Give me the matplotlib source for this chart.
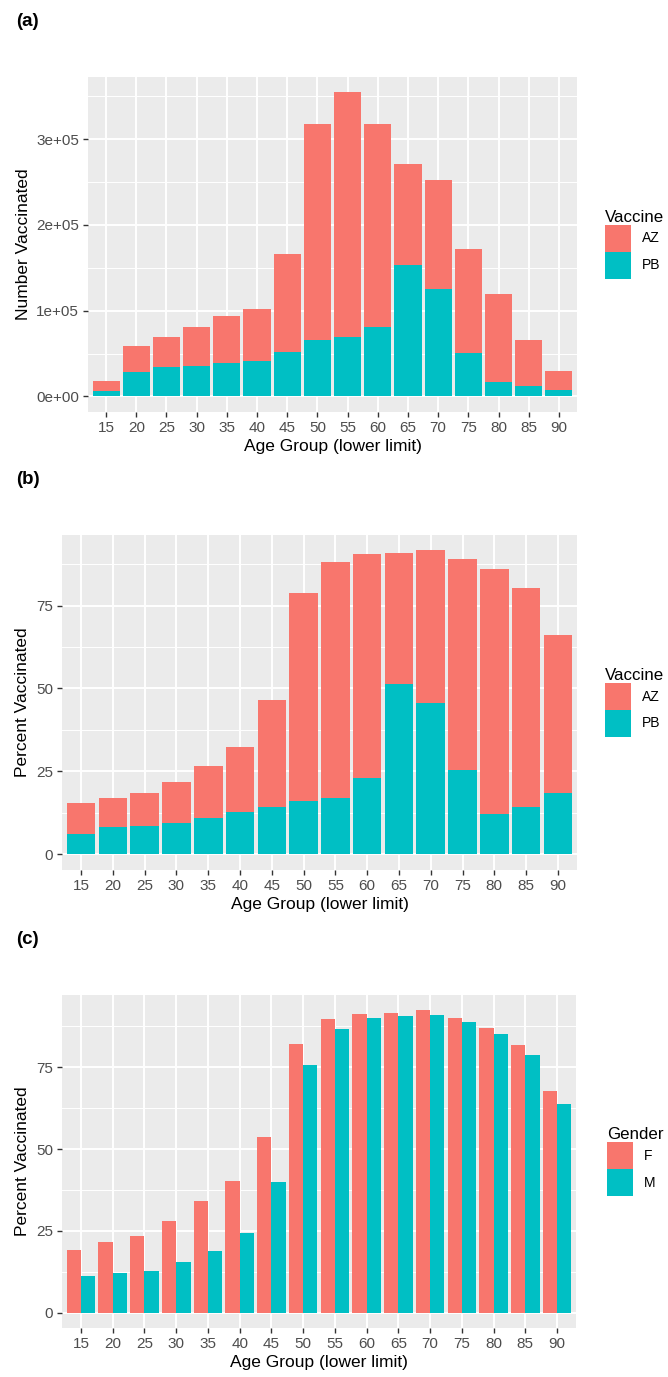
import numpy as np
import matplotlib
matplotlib.use("Agg")
import matplotlib.pyplot as plt
from matplotlib.patches import Patch
from matplotlib.ticker import FixedLocator, FuncFormatter

plt.rcParams['font.family'] = ['Liberation Sans', 'DejaVu Sans']

# data
age_groups = ['15', '20', '25', '30', '35', '40', '45', '50',
              '55', '60', '65', '70', '75', '80', '85', '90']

# (a) number vaccinated by vaccine
num_az = [10900, 30400, 35000, 44700, 54900, 60800, 114600, 252200,
          286100, 237500, 117500, 126500, 121800, 103200, 53700, 22200]
num_pb = [6600, 28000, 33900, 35800, 38500, 41200, 51400, 65800,
          68900, 80500, 153300, 125300, 50200, 16300, 12100, 7400]

# (b) percent vaccinated by vaccine
pct_az = [9.4, 8.7, 9.8, 12.4, 15.7, 19.5, 32.2, 62.8,
          71.0, 67.7, 39.5, 46.2, 63.6, 73.9, 66.1, 47.7]
pct_pb = [6.0, 8.2, 8.6, 9.3, 10.9, 12.8, 14.3, 16.1,
          17.0, 22.9, 51.5, 45.5, 25.5, 12.1, 14.3, 18.4]

# (c) percent vaccinated by gender
pct_f = [19.2, 21.6, 23.5, 28.0, 34.1, 40.2, 53.7, 82.2,
         89.7, 91.3, 91.6, 92.4, 90.1, 87.0, 81.8, 67.7]
pct_m = [11.3, 12.1, 12.9, 15.5, 18.9, 24.3, 39.8, 75.7,
         86.7, 90.1, 90.5, 90.9, 88.7, 85.2, 78.7, 63.7]

RED = '#F8766D'
TEAL = '#00BFC4'
W, H = 668, 1377

fig = plt.figure(figsize=(W / 100, H / 100), dpi=100)


def make_ax(left, right, top, bottom):
    ax = fig.add_axes([left / W, 1 - bottom / H, (right - left) / W, (bottom - top) / H])
    ax.set_facecolor('#EBEBEB')
    for s in ax.spines.values():
        s.set_visible(False)
    ax.set_axisbelow(True)
    ax.grid(which='major', color='white', linewidth=1.4)
    ax.grid(which='minor', axis='y', color='white', linewidth=0.7)
    ax.tick_params(which='major', length=3.5, width=1.0, color='#333333',
                   labelcolor='#4D4D4D', labelsize=11, pad=3)
    ax.tick_params(which='minor', length=0)
    return ax


def finish(ax, ymax, major, minor, ylabel, legend_title, labels, leg_x, fmt=None):
    x = np.arange(len(age_groups))
    ax.set_xlim(-0.6, len(age_groups) - 0.4)
    ax.set_ylim(-0.05 * ymax, 1.05 * ymax)
    ax.set_xticks(x)
    ax.set_xticklabels(age_groups)
    ax.yaxis.set_major_locator(FixedLocator(major))
    ax.yaxis.set_minor_locator(FixedLocator(minor))
    if fmt:
        ax.yaxis.set_major_formatter(FuncFormatter(fmt))
    ax.set_xlabel('Age Group (lower limit)', fontsize=12.5, labelpad=3)
    ax.set_ylabel(ylabel, fontsize=12.5, labelpad=4)
    handles = [Patch(facecolor=RED), Patch(facecolor=TEAL)]
    pos = ax.get_position()
    leg = ax.legend(handles, labels, title=legend_title, loc='center left',
                    bbox_to_anchor=(leg_x / W, pos.y0 + pos.height / 2),
                    bbox_transform=fig.transFigure, frameon=False, fontsize=10,
                    title_fontsize=12.2, handlelength=1.85, handleheight=2.6,
                    labelspacing=0.0, handletextpad=0.8, borderaxespad=0,
                    borderpad=0)
    leg._legend_box.align = 'left'


x = np.arange(len(age_groups))

# (a)
ax1 = make_ax(88, 577, 76.7, 411.7)
ax1.bar(x, num_pb, width=0.9, color=TEAL)
ax1.bar(x, num_az, width=0.9, bottom=num_pb, color=RED)
tot1 = np.array(num_az) + np.array(num_pb)
finish(ax1, tot1.max(), [0, 1e5, 2e5, 3e5], [0.5e5, 1.5e5, 2.5e5, 3.5e5],
       'Number Vaccinated', 'Vaccine', ['AZ', 'PB'], 605,
       fmt=lambda v, p: f'{v:.0e}')

# (b)
ax2 = make_ax(62, 577, 535, 869.5)
ax2.bar(x, pct_pb, width=0.9, color=TEAL)
ax2.bar(x, pct_az, width=0.9, bottom=pct_pb, color=RED)
tot2 = np.array(pct_az) + np.array(pct_pb)
finish(ax2, tot2.max(), [0, 25, 50, 75], [12.5, 37.5, 62.5, 87.5],
       'Percent Vaccinated', 'Vaccine', ['AZ', 'PB'], 605)

# (c)
ax3 = make_ax(62, 576, 995, 1328)
ax3.bar(x - 0.225, pct_f, width=0.45, color=RED)
ax3.bar(x + 0.225, pct_m, width=0.45, color=TEAL)
finish(ax3, max(max(pct_f), max(pct_m)), [0, 25, 50, 75], [12.5, 37.5, 62.5, 87.5],
       'Percent Vaccinated', 'Gender', ['F', 'M'], 607)

for lab, y in [('(a)', 22), ('(b)', 480), ('(c)', 940)]:
    fig.text(16 / W, 1 - y / H, lab, fontsize=13.5, fontweight='bold', va='center', ha='left')

fig.savefig('out.png', dpi=100)
